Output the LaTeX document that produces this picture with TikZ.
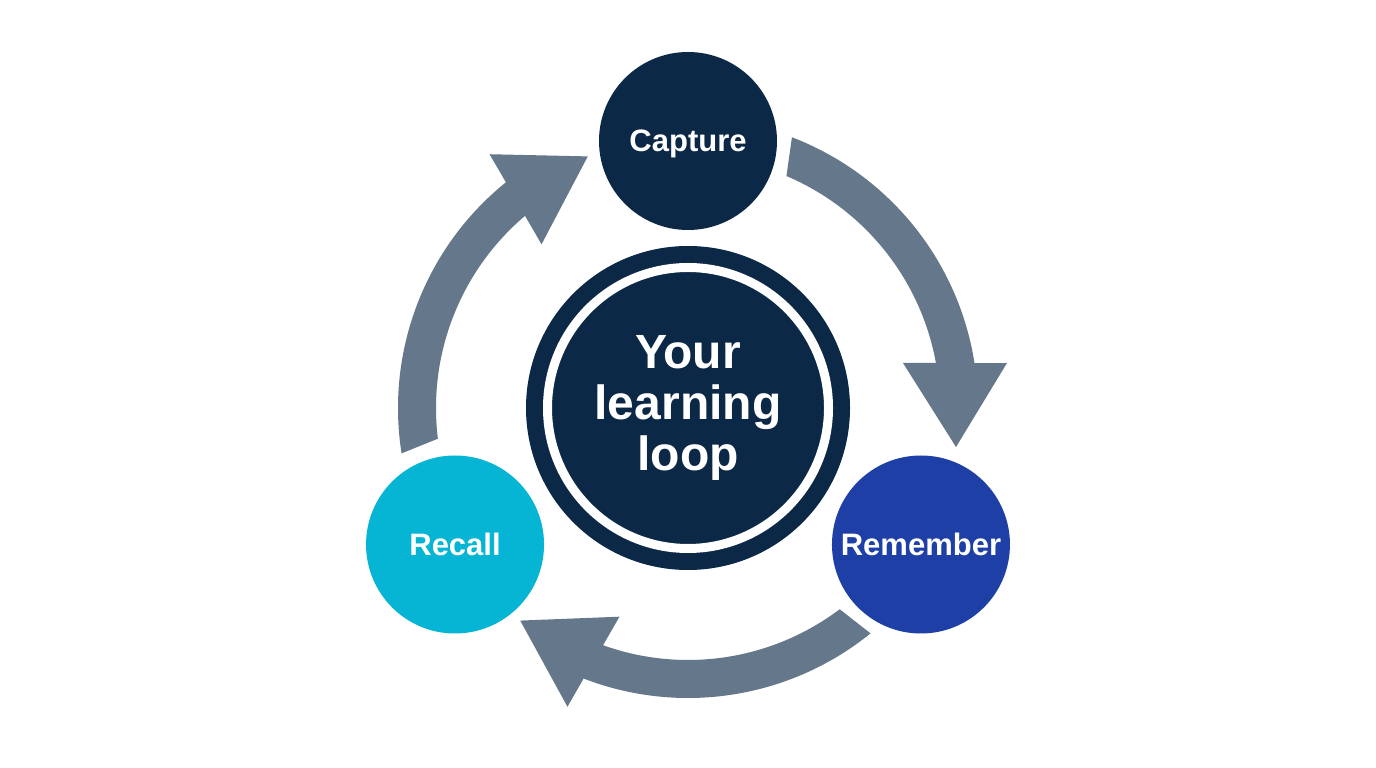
\documentclass[tikz,border=0pt]{standalone}
\usepackage{fontspec}
\setmainfont{Liberation Sans}
\usetikzlibrary{calc}
\definecolor{navy}{HTML}{0C2847}
\definecolor{royal}{HTML}{1E40A6}
\definecolor{cyanc}{HTML}{06B4D4}
\definecolor{slatec}{HTML}{64778B}
\tikzset{
  stage/.style={circle, minimum size=178pt, inner sep=0pt, text=white,
    font=\bfseries\fontsize{31}{31}\selectfont, text height=22pt, text depth=0pt},
  looparrow/.pic={
    \fill[slatec] (69:290) arc[start angle=69, end angle=8.9, radius=290]
      -- (319,45) -- (268,-39) -- (215,45) -- (10.3:252)
      arc[start angle=10.3, end angle=67, radius=252] -- cycle;
  }
}
\begin{document}
\begin{tikzpicture}[x=1pt,y=1pt]
\useasboundingbox (0,0) rectangle (1376,768);
\fill[white] (0,0) rectangle (1376,768);
\coordinate (O) at (688,358);
\node[circle, fill=navy, minimum size=324pt, inner sep=0pt] (hub) at (688,360) {};
\pic (a1) at (hub.center) {looparrow};
\pic[rotate=120] (a2) at (hub.center) {looparrow};
\pic[rotate=-120] (a3) at (hub.center) {looparrow};
\node[circle, draw=white, line width=9pt, minimum size=281pt, inner sep=0pt,
  text=white, align=center, font=\bfseries\fontsize{48}{51}\selectfont]
  (hubtext) at (hub.center) {Your\\learning\\loop};
\node[stage, fill=navy] (capture) at ($(O)+(90:269)$) {Capture};
\node[stage, fill=royal] (remember) at ($(O)+(-30:269)$) {Remember};
\node[stage, fill=cyanc] (recall) at ($(O)+(210:269)$) {Recall};
\end{tikzpicture}
\end{document}
